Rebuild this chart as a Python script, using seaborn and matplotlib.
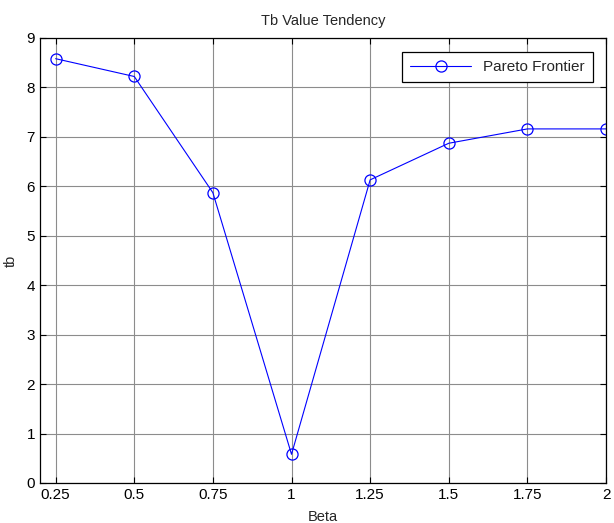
import numpy as np
import matplotlib
matplotlib.use('Agg')
import matplotlib.pyplot as plt
import seaborn as sns

# Werte
beta = [0.25, 0.5, 0.75, 1.0, 1.25, 1.5, 1.75, 2.0]
tb = [8.58, 8.22, 5.87, 0.58, 6.13, 6.87, 7.16, 7.16]
x_ticks = [0.25, 0.5, 0.75, 1, 1.25, 1.5, 1.75, 2]
x_labels = ['0.25', '0.5', '0.75', '1', '1.25', '1.5', '1.75', '2']
y_ticks = list(range(0, 10))

sns.set_style('ticks')
plt.rcParams['font.family'] = ['Liberation Sans', 'DejaVu Sans']
plt.rcParams['font.size'] = 10

fig = plt.figure(figsize=(6.14, 5.23), dpi=100)
ax = fig.add_axes([0.065, 0.0765, 0.922, 0.851])

sns.lineplot(x=beta, y=tb, ax=ax, color='blue', linewidth=0.8, marker='o',
             markersize=8, markerfacecolor='none', markeredgecolor='blue',
             markeredgewidth=0.9, label='Pareto Frontier')

ax.set_xlim(0.2, 2)
ax.set_ylim(0, 9)
ax.set_xticks(x_ticks)
ax.set_xticklabels(x_labels)
ax.set_yticks(y_ticks)
ax.grid(True, color='#8c8c8c', linewidth=0.8)
ax.tick_params(direction='in', top=True, right=True, length=4, width=0.8,
               labelsize=11, colors='black')
for s in ax.spines.values():
    s.set_visible(True)
    s.set_color('black')
    s.set_linewidth(0.9)

ax.set_title('Tb Value Tendency', fontsize=10.5, pad=9)
ax.set_xlabel('Beta', fontsize=10.5, labelpad=6)
ax.set_ylabel('tb', fontsize=10.5, labelpad=6)

leg = ax.legend(loc='upper right', bbox_to_anchor=(0.99, 0.985), fancybox=False,
                edgecolor='black', framealpha=1, fontsize=11, numpoints=1,
                handlelength=4, borderpad=0.5)
leg.get_frame().set_linewidth(0.9)

fig.savefig('out.png', dpi=100)
